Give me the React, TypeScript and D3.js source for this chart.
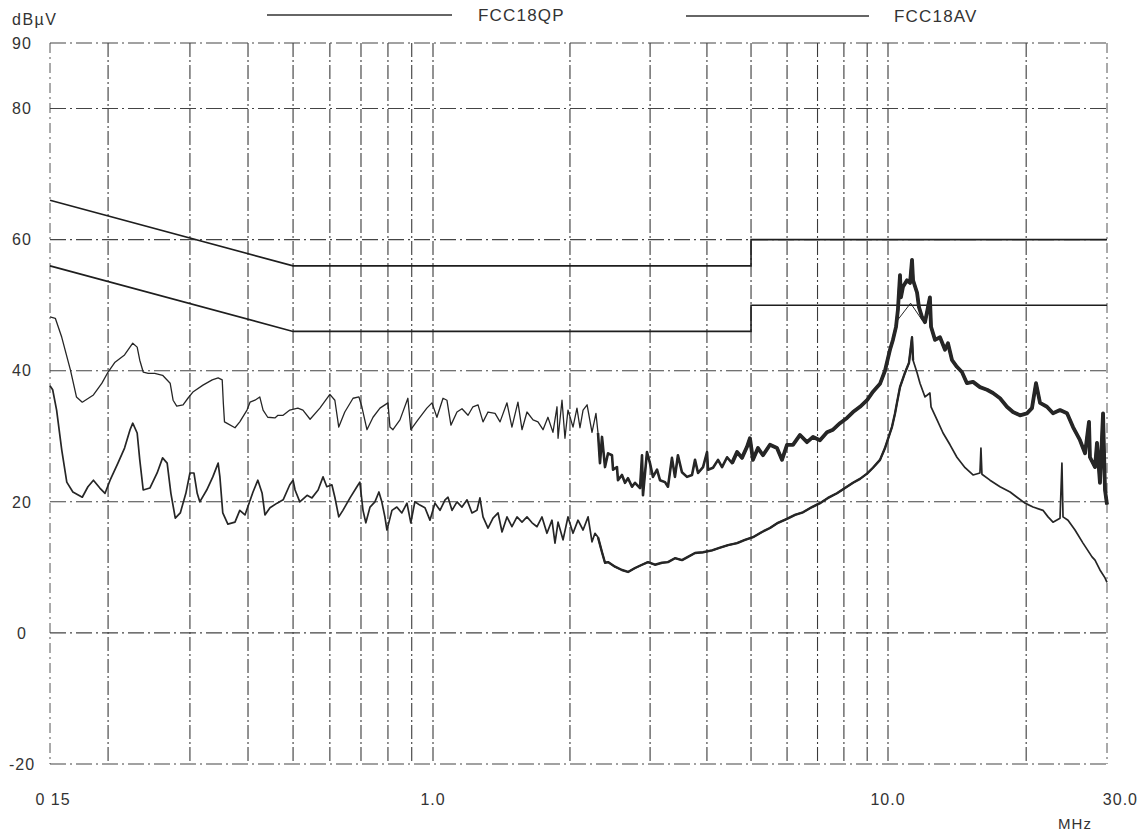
import React from "react";
import * as d3 from "d3";

type Pt = [number, number];

// Limit lines (MHz, dBµV)
const limitQP: Pt[] = [[0.15, 66], [0.5, 56], [5, 56], [5, 60], [30, 60]];
const limitAV: Pt[] = [[0.15, 56], [0.5, 46], [5, 46], [5, 50], [30, 50]];

// Measured peak trace (upper)
const peakTrace: Pt[] = [
  [0.150,48.2],[0.154,48.0],[0.159,45.1],[0.166,40.1],[0.171,36.0],[0.176,35.2],[0.186,36.3],[0.194,38.1],[0.200,39.8],[0.207,41.3],[0.217,42.4],[0.226,44.2],[0.231,43.6],[0.234,41.6],[0.238,39.8],[0.244,39.6],[0.252,39.6],[0.262,39.3],[0.272,38.1],[0.276,35.5],[0.281,34.6],[0.290,34.8],[0.297,35.8],[0.305,36.8],[0.320,37.8],[0.335,38.6],[0.345,38.9],[0.352,38.6],[0.354,35.0],[0.356,32.2],[0.360,32.0],[0.375,31.3],[0.384,32.2],[0.398,34.0],[0.404,35.2],[0.414,35.5],[0.424,36.0],[0.431,34.0],[0.441,32.9],[0.457,32.8],[0.464,33.2],[0.476,33.2],[0.492,34.0],[0.512,34.3],[0.525,34.0],[0.544,32.6],[0.571,34.3],[0.600,36.4],[0.615,35.5],[0.627,31.4],[0.646,33.7],[0.673,35.8],[0.693,36.0],[0.703,34.5],[0.721,31.0],[0.743,32.9],[0.769,34.3],[0.800,35.1],[0.808,31.4],[0.820,31.0],[0.849,32.5],[0.883,35.8],[0.896,31.0],[0.928,32.5],[0.970,34.3],[0.995,35.1],
  [1.020,32.9],[1.052,35.8],[1.073,35.5],[1.095,31.7],[1.129,33.7],[1.158,34.2],[1.194,33.2],[1.224,34.5],[1.256,34.8],[1.288,32.2],[1.321,33.7],[1.369,33.5],[1.404,32.2],[1.454,35.1],[1.491,31.4],[1.537,35.2],[1.569,31.0],[1.609,33.7],[1.659,32.5],[1.701,32.2],[1.745,31.0],[1.789,32.9],[1.835,30.6],[1.873,34.5],[1.883,29.7],[1.921,35.5],[1.950,29.7],[1.980,34.0],[2.031,31.4],[2.072,34.3],[2.104,31.3],[2.137,34.0],[2.181,34.8],[2.236,30.6],[2.281,33.5],[2.305,30.5],[2.328,25.9],[2.352,29.9],[2.388,25.3],[2.425,27.4],[2.474,27.1],[2.487,24.9],[2.537,25.3],[2.550,23.3],[2.602,24.1],[2.642,22.9],[2.683,23.6],[2.738,22.3],[2.780,22.9],[2.851,22.1],[2.880,27.1],[2.894,21.0],[2.953,27.6],[2.998,25.9],[3.044,23.8],[3.107,24.9],[3.154,23.3],[3.235,23.0],[3.284,22.3],[3.351,26.7],[3.402,23.8],[3.454,27.1],[3.525,24.5],[3.616,23.8],[3.709,24.1],[3.766,26.4],[3.824,24.4],[3.922,25.3],[4.002,27.6],[4.022,24.9],[4.125,25.2],[4.231,26.4],[4.318,25.3],[4.429,26.8],[4.542,25.9],[4.659,27.6],[4.776,26.7],[4.899,28.4],[4.973,29.7],[5.049,26.4],[5.179,28.2],[5.312,27.1],[5.503,28.7],[5.702,28.2],[5.848,26.4],[5.998,28.7],[6.183,28.7],[6.406,30.2],[6.637,29.1],[6.842,29.9],[7.088,29.4],[7.344,30.6],[7.570,31.0],[7.843,32.0],[8.126,32.8],[8.377,33.7],[8.679,34.5],[8.994,35.5],[9.268,36.8],[9.603,38.0],[9.849,40.0],
  [10.10,43.2],[10.25,44.7],[10.41,46.7],[10.51,49.3],[10.62,54.6],[10.67,51.2],[10.78,52.8],[11.00,53.8],[11.17,53.4],[11.28,56.9],[11.34,53.8],[11.57,51.9],[11.68,49.7],[11.86,48.2],[12.04,47.4],[12.34,51.2],[12.41,46.7],[12.66,44.7],[12.98,45.1],[13.31,43.2],[13.51,44.2],[13.79,41.6],[14.13,40.6],[14.49,39.8],[14.86,38.1],[15.32,38.3],[15.86,37.5],[16.43,37.1],[16.93,36.6],[17.54,35.8],[18.16,34.5],[18.72,33.7],[19.39,33.2],[20.08,33.5],[20.59,34.3],[21.01,38.1],[21.44,35.1],[22.20,34.5],[22.88,33.5],[23.70,34.0],[24.55,33.5],[25.30,31.4],[26.20,29.4],[26.87,27.4],[27.41,32.2],[27.54,26.8],[28.25,25.3],[28.53,29.0],[28.96,22.9],[29.41,33.5],[29.70,21.8],[30.0,19.6]
];

// Measured average trace (lower)
const avgTrace: Pt[] = [
  [0.150,37.7],[0.152,37.1],[0.155,34.0],[0.159,27.9],[0.163,23.0],[0.168,21.5],[0.176,20.7],[0.181,22.3],[0.186,23.3],[0.192,22.1],[0.197,21.3],[0.202,23.3],[0.210,25.9],[0.217,28.2],[0.223,31.0],[0.226,32.0],[0.231,30.5],[0.234,26.4],[0.238,21.8],[0.246,22.1],[0.255,24.4],[0.262,26.7],[0.268,25.9],[0.273,21.3],[0.279,17.5],[0.286,18.3],[0.294,21.3],[0.300,24.4],[0.306,24.4],[0.311,21.3],[0.315,20.0],[0.326,21.8],[0.336,23.8],[0.345,25.9],[0.348,23.8],[0.353,18.3],[0.362,16.6],[0.375,16.9],[0.384,18.7],[0.394,18.0],[0.399,19.1],[0.410,21.5],[0.420,23.3],[0.429,21.3],[0.435,18.0],[0.446,19.1],[0.462,19.8],[0.476,20.3],[0.492,22.6],[0.500,23.3],[0.505,21.8],[0.517,20.0],[0.536,21.0],[0.549,20.6],[0.566,21.8],[0.580,23.8],[0.591,22.3],[0.606,22.6],[0.615,20.7],[0.627,17.7],[0.640,18.7],[0.663,20.6],[0.686,22.3],[0.696,23.0],[0.707,18.7],[0.717,16.8],[0.732,19.2],[0.750,20.0],[0.765,21.5],[0.776,20.0],[0.788,17.7],[0.796,15.7],[0.816,18.7],[0.836,19.2],[0.857,18.3],[0.879,19.8],[0.896,16.8],[0.914,20.0],[0.937,19.5],[0.961,19.1],[0.985,17.2],
  [1.010,19.8],[1.036,18.7],[1.063,20.3],[1.079,20.7],[1.101,18.7],[1.129,20.0],[1.158,19.2],[1.188,20.3],[1.218,18.3],[1.249,18.7],[1.268,20.6],[1.288,17.7],[1.321,16.0],[1.355,17.5],[1.390,18.3],[1.418,15.4],[1.454,17.7],[1.491,16.2],[1.530,17.7],[1.569,16.9],[1.609,17.7],[1.651,16.8],[1.693,16.2],[1.736,17.7],[1.780,15.2],[1.826,17.2],[1.854,13.7],[1.883,16.9],[1.931,14.2],[1.980,17.7],[2.031,15.2],[2.083,17.2],[2.137,15.7],[2.192,17.7],[2.236,13.9],[2.270,15.2],[2.305,14.6],[2.352,12.3],[2.388,10.7],[2.425,10.8],[2.512,10.1],[2.602,9.6],[2.683,9.3],[2.780,9.9],[2.880,10.4],[2.968,10.8],[3.075,10.4],[3.186,10.7],[3.284,10.8],[3.402,11.4],[3.525,11.1],[3.634,11.6],[3.766,12.2],[3.922,12.3],[4.104,12.6],[4.274,13.0],[4.451,13.4],[4.659,13.7],[4.850,14.2],[5.049,14.6],[5.285,15.4],[5.503,16.0],[5.731,16.8],[5.998,17.4],[6.246,18.0],[6.504,18.4],[6.808,19.2],[7.088,19.8],[7.381,20.6],[7.725,21.3],[8.044,22.1],[8.377,22.9],[8.679,23.5],[8.994,24.3],[9.268,25.2],[9.603,26.4],[9.849,28.2],
  [10.10,30.5],[10.20,31.4],[10.36,33.5],[10.46,35.1],[10.62,37.5],[10.89,39.7],[11.11,41.2],[11.28,45.1],[11.34,41.6],[11.57,39.7],[11.74,38.1],[12.04,36.0],[12.34,36.6],[12.41,34.5],[12.79,32.5],[13.18,30.5],[13.65,28.7],[14.13,26.8],[14.72,25.2],[15.32,24.1],[15.86,24.4],[15.94,28.2],[16.02,24.2],[16.68,23.3],[17.54,22.3],[18.45,21.5],[19.10,20.7],[19.88,19.8],[20.70,19.2],[21.76,18.7],[22.32,17.7],[22.88,16.9],[23.70,17.5],[23.93,25.9],[24.06,17.7],[24.67,17.2],[25.55,15.7],[26.60,13.7],[27.83,11.6],[28.25,11.1],[28.96,9.6],[29.70,8.4],[30.0,7.7]
];

// Thin envelope line visible at the resonance peak
const peakEnvelope: Pt[] = [[10.46, 47.6], [11.2, 50.3], [11.9, 47.6]];

// Axes
const xGridValues = [0.2, 0.3, 0.4, 0.5, 0.6, 0.7, 0.8, 0.9, 1, 2, 3, 4, 5, 6, 7, 8, 9, 10, 20];
const xEdgeValues = [0.15, 30];
const yGridValues = [90, 80, 60, 40, 20, 0, -20];
const yTickValues = [90, 80, 60, 40, 20, 0, -20];
const xTickValues = [0.15, 1, 10, 30];
const xTickTexts = ["0 15", "1.0", "10.0", "30.0"];
const legendNames = ["FCC18QP", "FCC18AV"];

const FONT = "'Liberation Sans', Arial, sans-serif";
const INK = "#262626";

export default function App() {
  const x = d3.scaleLog().domain([0.15, 1, 10, 30]).range([50, 433, 888, 1107]);
  const y = d3.scaleLinear().domain([-20, 90]).range([764, 43]);
  const line = d3.line<Pt>().x((d) => x(d[0])).y((d) => y(d[1]));
  const x0 = x(0.15), x1 = x(30), yTop = y(90), yBot = y(-20);

  const peakDense = peakTrace.filter((d) => d[0] >= 2.3);
  const peakHeavy = peakTrace.filter((d) => d[0] >= 4.5);
  const avgDense = avgTrace.filter((d) => d[0] >= 2.3 && d[0] <= 11.5);

  return (
    <svg
      width={1140}
      height={831}
      viewBox="0 0 1140 831"
      style={{ position: "absolute", left: 0, top: 0, background: "#fff" }}
    >
      <rect x={0} y={0} width={1140} height={831} fill="#ffffff" />
      {/* vertical grid */}
      {xGridValues.map((v) => (
        <line key={"vx" + v} x1={x(v)} x2={x(v)} y1={yTop} y2={yBot}
          stroke="#3a3a3a" strokeWidth={1.1} strokeDasharray="14,3,2,3" />
      ))}
      {xEdgeValues.map((v) => (
        <line key={"ve" + v} x1={x(v)} x2={x(v)} y1={yTop} y2={yBot}
          stroke="#555" strokeWidth={1} strokeDasharray="10,4,2,4" />
      ))}
      {/* horizontal grid */}
      {yGridValues.map((v) => (
        <line key={"hy" + v} x1={x0} x2={x1} y1={y(v)} y2={y(v)}
          stroke="#444" strokeWidth={1.1} strokeDasharray="16,4,2,4" />
      ))}

      {/* limit lines */}
      <path d={line(limitQP) || ""} fill="none" stroke="#1e1e1e" strokeWidth={1.6} />
      <path d={line(limitAV) || ""} fill="none" stroke="#1e1e1e" strokeWidth={1.6} />

      {/* measured traces */}
      <path d={line(peakTrace) || ""} fill="none" stroke={INK} strokeWidth={1.3} strokeLinejoin="round" />
      <path d={line(peakDense) || ""} fill="none" stroke={INK} strokeWidth={2.6} strokeLinejoin="round" />
      <path d={line(peakHeavy) || ""} fill="none" stroke={INK} strokeWidth={3.8} strokeLinejoin="round" />
      <path d={line(avgTrace) || ""} fill="none" stroke={INK} strokeWidth={1.7} strokeLinejoin="round" />
      <path d={line(avgDense) || ""} fill="none" stroke={INK} strokeWidth={2.4} strokeLinejoin="round" />
      <path d={line(peakEnvelope) || ""} fill="none" stroke={INK} strokeWidth={1} />

      {/* y tick labels */}
      {yTickValues.map((v) => (
        <text key={"yt" + v} x={22} y={y(v)} dy="0.36em" textAnchor="middle"
          fontFamily={FONT} fontSize={16} letterSpacing={1} fill="#333">
          {v}
        </text>
      ))}
      <text x={12} y={25} fontFamily={FONT} fontSize={16} letterSpacing={1.5} fill="#333">dBµV</text>

      {/* x tick labels */}
      {xTickValues.map((v, i) => (
        <text key={"xt" + v} x={i === 3 ? 1138 : x(v) + (i === 0 ? 3 : 0)} y={799} dy="0.36em"
          textAnchor={i === 3 ? "end" : "middle"}
          fontFamily={FONT} fontSize={16} letterSpacing={1} fill="#333">
          {xTickTexts[i]}
        </text>
      ))}
      <text x={1075} y={824} dy="0.36em" textAnchor="middle" fontFamily={FONT} fontSize={15} letterSpacing={1} fill="#333">MHz</text>

      {/* legend */}
      <line x1={267} x2={452} y1={15} y2={15} stroke="#333" strokeWidth={1.6} />
      <text x={478} y={15} dy="0.36em" fontFamily={FONT} fontSize={17} letterSpacing={1.2} fill="#333">{legendNames[0]}</text>
      <line x1={686} x2={869} y1={16} y2={16} stroke="#333" strokeWidth={1.6} />
      <text x={894} y={16} dy="0.36em" fontFamily={FONT} fontSize={17} letterSpacing={1.2} fill="#333">{legendNames[1]}</text>
    </svg>
  );
}
